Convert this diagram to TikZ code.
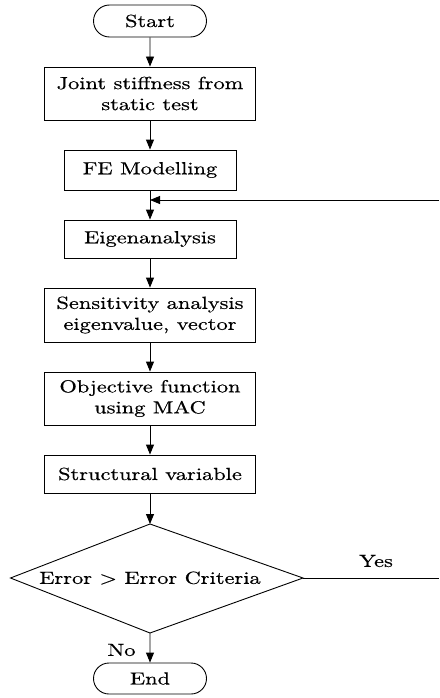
\documentclass[tikz,border=0pt]{standalone}
\usepackage{fontspec}
\setmainfont{lmroman10-regular.otf}[FakeStretch=1.28, FakeBold=0.5]
\usetikzlibrary{arrows.meta,shapes.misc}
\tikzset{
  txt/.style={font=\fontsize{17.5}{21}\selectfont},
  box/.style={draw, rectangle, line width=0.9pt, inner sep=0pt, align=center, txt},
  term/.style={draw, rounded rectangle, line width=0.9pt, inner sep=0pt, align=center, txt,
     minimum width=113pt, minimum height=32pt},
  arr/.style={line width=0.9pt, -{Triangle[length=10pt,width=8pt]}},
  ln/.style={line width=0.9pt},
}
\begin{document}
\begin{tikzpicture}[x=1pt,y=1pt]
\useasboundingbox (0,0) rectangle (439,-698);
\node[term] (start) at (150,-21) {Start};
\node[box, minimum width=211pt, minimum height=53pt] (joint) at (150,-93.5) {Joint stiffness from\\static test};
\node[box, minimum width=172pt, minimum height=40pt] (fe) at (150,-170) {FE Modelling};
\node[box, minimum width=172pt, minimum height=38pt] (eig) at (150,-239) {Eigenanalysis};
\node[box, minimum width=211pt, minimum height=54pt] (sens) at (150,-315) {Sensitivity analysis\\eigenvalue, vector};
\node[box, minimum width=211pt, minimum height=53pt] (obj) at (150,-398.5) {Objective function\\using MAC};
\node[box, minimum width=211pt, minimum height=38pt] (struct) at (150,-474) {Structural variable};
\coordinate (dtop) at (150,-524);
\coordinate (dright) at (303,-578);
\coordinate (dbottom) at (150,-633);
\coordinate (dleft) at (10.5,-578);
\draw[ln] (dtop) -- (dright) -- (dbottom) -- (dleft) -- cycle;
\node[txt] (dtext) at (150,-578) {Error > Error Criteria};
\node[term, minimum height=31pt] (end) at (150,-678.5) {End};
\coordinate (fbJ) at (150,-200);
\coordinate (fbR) at (439,-200);
\coordinate (yesR) at (439,-578);
\draw[arr] (start) -- (joint);
\draw[arr] (joint) -- (fe);
\draw[arr] (fe) -- (eig);
\draw[arr] (fbR) -- (fbJ);
\draw[arr] (eig) -- (sens);
\draw[arr] (sens) -- (obj);
\draw[arr] (obj) -- (struct);
\draw[arr] (struct) -- (dtop);
\draw[ln] (dright) -- (yesR);
\draw[arr] (dbottom) -- (end);
\node[txt] (yes) at (376,-561) {Yes};
\node[txt] (no) at (121.5,-650) {No};
\end{tikzpicture}
\end{document}
